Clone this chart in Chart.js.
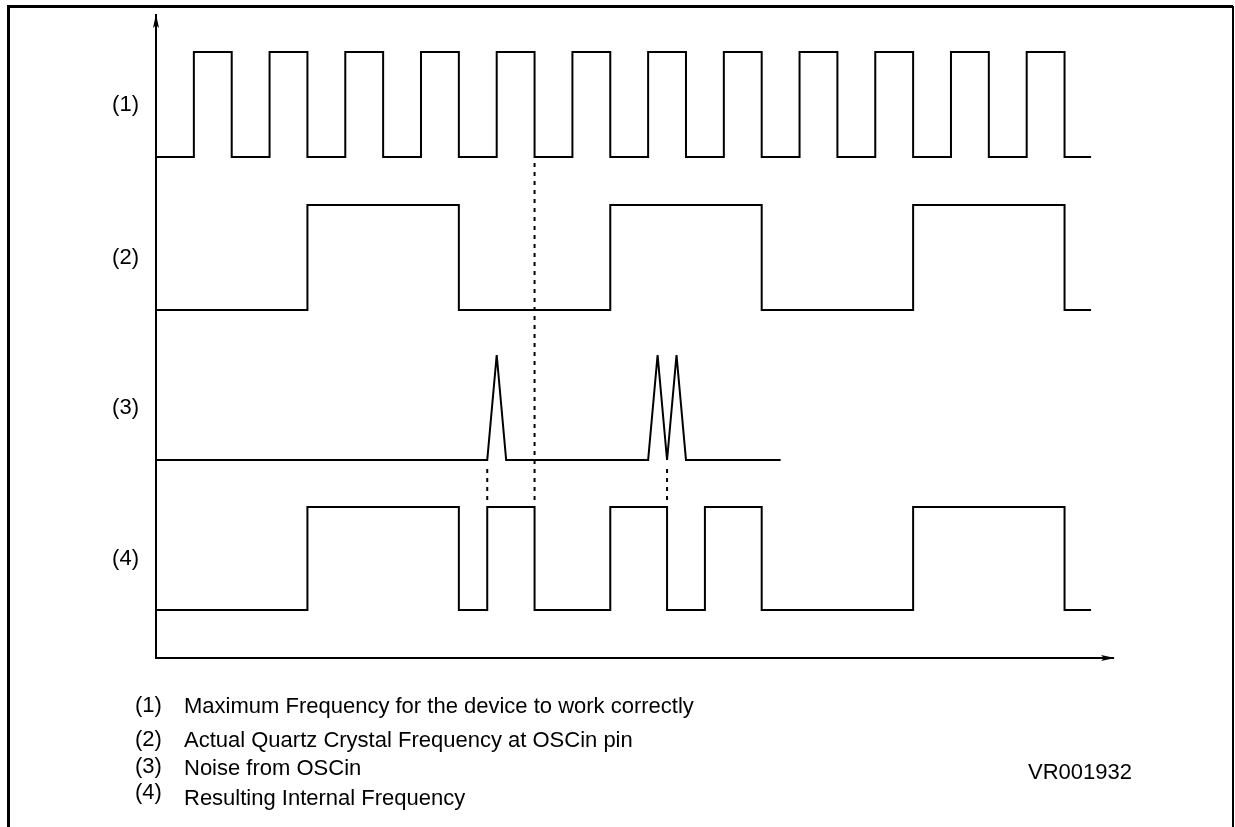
<!DOCTYPE html>
<html>
<head>
<meta charset="utf-8">
<title>Timing diagram</title>
<script src="https://cdn.jsdelivr.net/npm/chart.js@4.4.0/dist/chart.umd.min.js"></script>
<style>
  html, body { margin: 0; padding: 0; background: #fff; }
  #wrap { position: relative; width: 1235px; height: 827px; }
</style>
</head>
<body>
<div id="wrap"><canvas id="timing" width="1235" height="827"></canvas></div>
<script>
// Signals, as (time, level) pairs. Time unit = half a period of signal (1).
const trackLabels = ['(1)', '(2)', '(3)', '(4)'];

const clkTimes  = [0, 1, 2, 3, 4, 5, 6, 7, 8, 9, 10, 11, 12, 13, 14, 15, 16, 17, 18, 19, 20, 21, 22, 23, 24, 24.7];
const clkLevels = [0, 1, 0, 1, 0, 1, 0, 1, 0, 1, 0, 1, 0, 1, 0, 1, 0, 1, 0, 1, 0, 1, 0, 1, 0, 0];

const xtalTimes  = [0, 4, 8, 12, 16, 20, 24, 24.7];
const xtalLevels = [0, 1, 0, 1, 0, 1, 0, 0];

const noiseTimes  = [0, 8.75, 9, 9.25, 13, 13.25, 13.5, 13.75, 14, 16.5];
const noiseLevels = [0, 0, 1, 0, 0, 1, 0, 1, 0, 0];

const outTimes  = [0, 4, 8, 8.75, 10, 12, 13.5, 14.5, 16, 20, 24, 24.7];
const outLevels = [0, 1, 0, 1, 0, 1, 0, 1, 0, 1, 0, 0];

// dotted guide lines
const markerTimes = [10, 8.75, 13.5];

const notes = [
  'Maximum Frequency for the device to work correctly',
  'Actual Quartz Crystal Frequency at OSCin pin',
  'Noise from OSCin',
  'Resulting Internal Frequency'
];
const figureId = 'VR001932';

// track geometry (y units = px above the time axis)
const trackBase = [501, 348, 198, 48];
const trackAmp  = [105, 105, 105, 103];
const markerSpan = [[158, 498], [158, 193], [158, 193]];

const FONT = "'Liberation Sans', Arial, sans-serif";

function toPoints(times, levels, track) {
  return times.map((t, i) => ({ x: t, y: trackBase[track] + levels[i] * trackAmp[track] }));
}

function wave(times, levels, track, stepped) {
  return {
    data: toPoints(times, levels, track),
    borderColor: '#000',
    borderWidth: 2,
    pointRadius: 0,
    fill: false,
    tension: 0,
    stepped: stepped
  };
}

const datasets = [
  wave(clkTimes, clkLevels, 0, true),
  wave(xtalTimes, xtalLevels, 1, true),
  wave(noiseTimes, noiseLevels, 2, false),
  wave(outTimes, outLevels, 3, true)
];
markerTimes.forEach((t, i) => {
  datasets.push({
    data: [{ x: t, y: markerSpan[i][0] }, { x: t, y: markerSpan[i][1] }],
    borderColor: '#000',
    borderWidth: 2,
    borderDash: [4, 5],
    pointRadius: 0,
    fill: false
  });
});

// frame, arrow heads and the notes under the diagram
const decorations = {
  id: 'decorations',
  afterDraw(chart) {
    const ctx = chart.ctx;
    const area = chart.chartArea;
    ctx.save();
    ctx.strokeStyle = '#000';
    ctx.fillStyle = '#000';

    // outer frame (open at the bottom)
    ctx.lineWidth = 3;
    ctx.beginPath();
    ctx.moveTo(8.5, 827);
    ctx.lineTo(8.5, 6.5);
    ctx.lineTo(1233, 6.5);
    ctx.stroke();
    ctx.lineWidth = 2;
    ctx.beginPath();
    ctx.moveTo(1233, 6);
    ctx.lineTo(1233, 827);
    ctx.stroke();

    // arrow heads
    const ax = area.left;
    ctx.beginPath();
    ctx.moveTo(ax, area.top - 1);
    ctx.lineTo(ax - 3, area.top + 13);
    ctx.lineTo(ax, area.top + 10);
    ctx.lineTo(ax + 3, area.top + 13);
    ctx.closePath();
    ctx.fill();
    const ay = area.bottom;
    ctx.beginPath();
    ctx.moveTo(area.right + 2, ay);
    ctx.lineTo(area.right - 12, ay - 3);
    ctx.lineTo(area.right - 9, ay);
    ctx.lineTo(area.right - 12, ay + 3);
    ctx.closePath();
    ctx.fill();

    // notes
    ctx.font = '22px ' + FONT;
    ctx.textBaseline = 'middle';
    const numY = [706, 740, 767, 793];
    const txtY = [707, 741, 769, 799];
    notes.forEach((n, i) => {
      ctx.fillText(trackLabels[i], 135, numY[i]);
      ctx.fillText(n, 184, txtY[i]);
    });
    ctx.textAlign = 'right';
    ctx.fillText(figureId, 1132, 773);
    ctx.restore();
  }
};

new Chart(document.getElementById('timing'), {
  type: 'line',
  data: { datasets: datasets },
  options: {
    responsive: false,
    animation: false,
    events: [],
    layout: { padding: { left: 96, top: 15, right: 122, bottom: 169 } },
    plugins: {
      legend: { display: false },
      tooltip: { enabled: false }
    },
    scales: {
      x: {
        type: 'linear',
        min: 0,
        max: 25.28,
        afterFit: (a) => { a.height = 0; a.paddingLeft = 0; a.paddingRight = 0; },
        grid: { display: false, drawTicks: false },
        border: { display: true, color: '#000', width: 2 },
        ticks: { display: false }
      },
      y: {
        type: 'linear',
        min: 0,
        max: 643,
        afterBuildTicks: (a) => {
          a.ticks = trackBase.map((b, i) => ({ value: b + trackAmp[i] / 2 }));
        },
        afterFit: (a) => { a.width = 60; a.paddingTop = 0; a.paddingBottom = 0; },
        grid: { display: false, drawTicks: false },
        border: { display: true, color: '#000', width: 2 },
        ticks: {
          autoSkip: false,
          color: '#000',
          padding: 17,
          font: { family: FONT, size: 22 },
          callback: (v, i) => trackLabels[i]
        }
      }
    }
  },
  plugins: [decorations]
});
</script>
</body>
</html>
